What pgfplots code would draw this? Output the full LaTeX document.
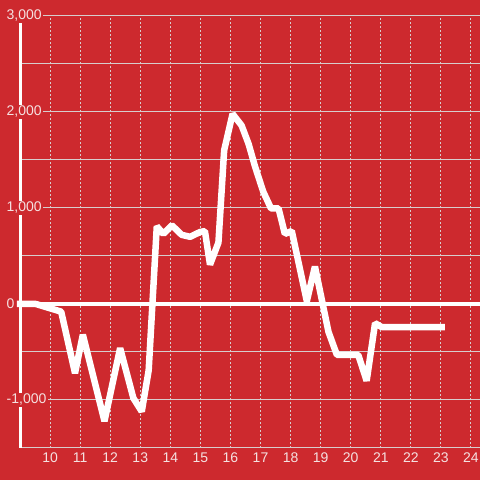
\documentclass[border=0pt]{standalone}
\usepackage{pgfplots}
\pgfplotsset{compat=1.18}
\usepackage{fontspec}
\setmainfont{Liberation Sans}
\definecolor{bg}{RGB}{205,41,46}
\definecolor{gridc}{RGB}{215,205,205}
\definecolor{lbl}{RGB}{245,225,225}
\begin{document}
\begin{tikzpicture}
\begin{axis}[
	set layers, clip=false,
	at={(20bp,32bp)}, anchor=south west,
	scale only axis, width=460bp, height=432bp,
	xmin=9, xmax=24.3, ymin=-1500, ymax=3000,
	axis x line*=bottom, axis y line*=left,
	x axis line style={gridc, line width=1bp},
	y axis line style={white, line width=3bp},
	xtick={10,...,24},
	xticklabels={10,11,12,13,14,15,16,17,18,19,20,21,22,23,24},
	ytick={-1000,0,1000,2000,3000},
	minor ytick={-1500,-500,500,1500,2500},
	yticklabels={{-1,000},{0},{1,000},{2,000},{3,000}},
	major tick length=0, minor tick length=0,
	xmajorgrids, ymajorgrids, yminorgrids,
	x grid style={gridc, line width=1bp, dash pattern=on 2bp off 2bp},
	y grid style={gridc, line width=1bp},
	xticklabel style={font=\fontsize{14bp}{16bp}\selectfont, text=lbl, yshift=-1bp},
	yticklabel style={anchor=west, xshift=-15bp, fill=bg, inner sep=1.5bp,
		font=\fontsize{14bp}{16bp}\selectfont, text=lbl},
]
\begin{pgfonlayer}{axis background}
\fill[bg] (rel axis cs:-0.2,-0.2) rectangle (rel axis cs:1.2,1.2);
\end{pgfonlayer}
\begin{pgfonlayer}{axis lines}
\draw[white, line width=3.5bp] (axis cs:8.9,0) -- (axis cs:24.3,0);
\end{pgfonlayer}
\addplot[white, line width=6.5bp, line join=bevel, mark=none] coordinates {
	(8.9,0) (9.53,0) (10.37,-80) (10.83,-720) (11.09,-320) (11.81,-1220)
	(12.33,-460) (12.77,-980) (13.05,-1120) (13.28,-690) (13.55,810)
	(13.77,730) (14.05,820) (14.38,720) (14.66,700) (14.99,750) (15.15,760)
	(15.32,410) (15.6,640) (15.79,1600) (16.07,1980) (16.37,1860) (16.6,1670)
	(16.82,1430) (17.09,1170) (17.35,995) (17.6,995) (17.81,730) (18.04,760)
	(18.54,30) (18.81,390) (19.26,-290) (19.54,-530) (20.25,-530) (20.53,-800)
	(20.81,-200) (21.03,-240) (23.13,-240)
};
\end{axis}
\pgfresetboundingbox
\useasboundingbox (0,0) rectangle (480bp,480bp);
\end{tikzpicture}
\end{document}
